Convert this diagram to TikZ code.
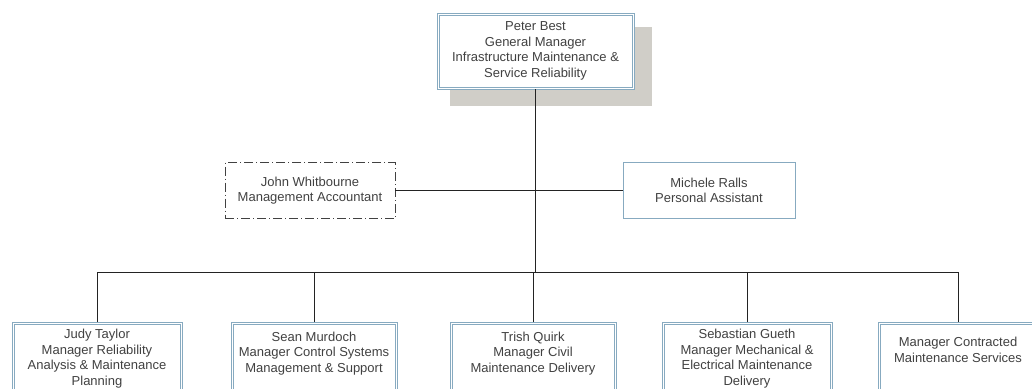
\documentclass[tikz,border=0pt]{standalone}
\usepackage{fontspec}
\setmainfont{Liberation Sans}
\usetikzlibrary{shadows}
\definecolor{boxline}{RGB}{135,170,192}
\definecolor{txtgray}{RGB}{65,65,65}
\definecolor{shadowgray}{RGB}{208,206,200}
\definecolor{linkgray}{RGB}{35,35,35}
\begin{document}
\begin{tikzpicture}[x=1pt,y=-1pt,
    font=\fontsize{13}{15.5}\selectfont,
    posbox/.style={draw=boxline,fill=white,line width=0.7pt,text=txtgray,align=center,inner sep=0pt},
    staffbox/.style={text=txtgray,align=center,inner sep=0pt,minimum height=56pt},
    mgrbox/.style={posbox,anchor=north,minimum width=170pt},
    inner/.style={draw=boxline,line width=0.6pt},
    link/.style={draw=linkgray,line width=0.9pt}]
  \useasboundingbox (0,0) rectangle (1032,388);
  \clip (0,0) rectangle (1032,388);
  \node[posbox,minimum width=197pt,minimum height=76pt,
    general shadow={fill=shadowgray,shadow xshift=15pt,shadow yshift=-15pt,shadow scale=1.03}]
    (best) at (535.5,51) {Peter Best\\General Manager\\Infrastructure Maintenance \&\\Service Reliability};
  \node[staffbox,draw=txtgray,line width=0.8pt,dash pattern=on 9pt off 3pt on 1pt off 3pt,
    minimum width=170pt] (whitbourne) at (310,190.5) {John Whitbourne\\Management Accountant};
  \node[staffbox,draw=boxline,line width=0.7pt,minimum width=172pt]
    (ralls) at (709,190.5) {Michele Ralls\\Personal Assistant};
  \node[mgrbox,text height=63pt,text depth=12pt] (taylor) at (97,322)
    {Judy Taylor\\Manager Reliability\\Analysis \& Maintenance\\Planning};
  \node[mgrbox,text height=50pt,text depth=25pt,minimum width=166pt] (murdoch) at (314,322)
    {Sean Murdoch\\Manager Control Systems\\Management \& Support};
  \node[mgrbox,text height=50pt,text depth=25pt,minimum width=166pt] (quirk) at (533,322)
    {Trish Quirk\\Manager Civil\\Maintenance Delivery};
  \node[mgrbox,text height=63pt,text depth=12pt] (gueth) at (747,322)
    {Sebastian Gueth\\Manager Mechanical \&\\Electrical Maintenance\\Delivery};
  \node[mgrbox,text height=40pt,text depth=35pt,minimum width=160pt] (contracted) at (958,322)
    {Manager Contracted\\Maintenance Services};
  \foreach \m in {best,taylor,murdoch,quirk,gueth,contracted}
    \draw[inner] ([shift={(2.4pt,-2.4pt)}]\m.north west) rectangle ([shift={(-2.4pt,2.4pt)}]\m.south east);
  \coordinate (bus) at (537,272);
  \draw[link] (best.south) -- (best.south |- bus);
  \draw[link] (whitbourne.east) -- (ralls.west);
  \draw[link] (taylor.north |- bus) -- (contracted.north |- bus);
  \foreach \m in {taylor,murdoch,quirk,gueth,contracted}
    \draw[link] (\m.north |- bus) -- (\m.north);
\end{tikzpicture}
\end{document}
